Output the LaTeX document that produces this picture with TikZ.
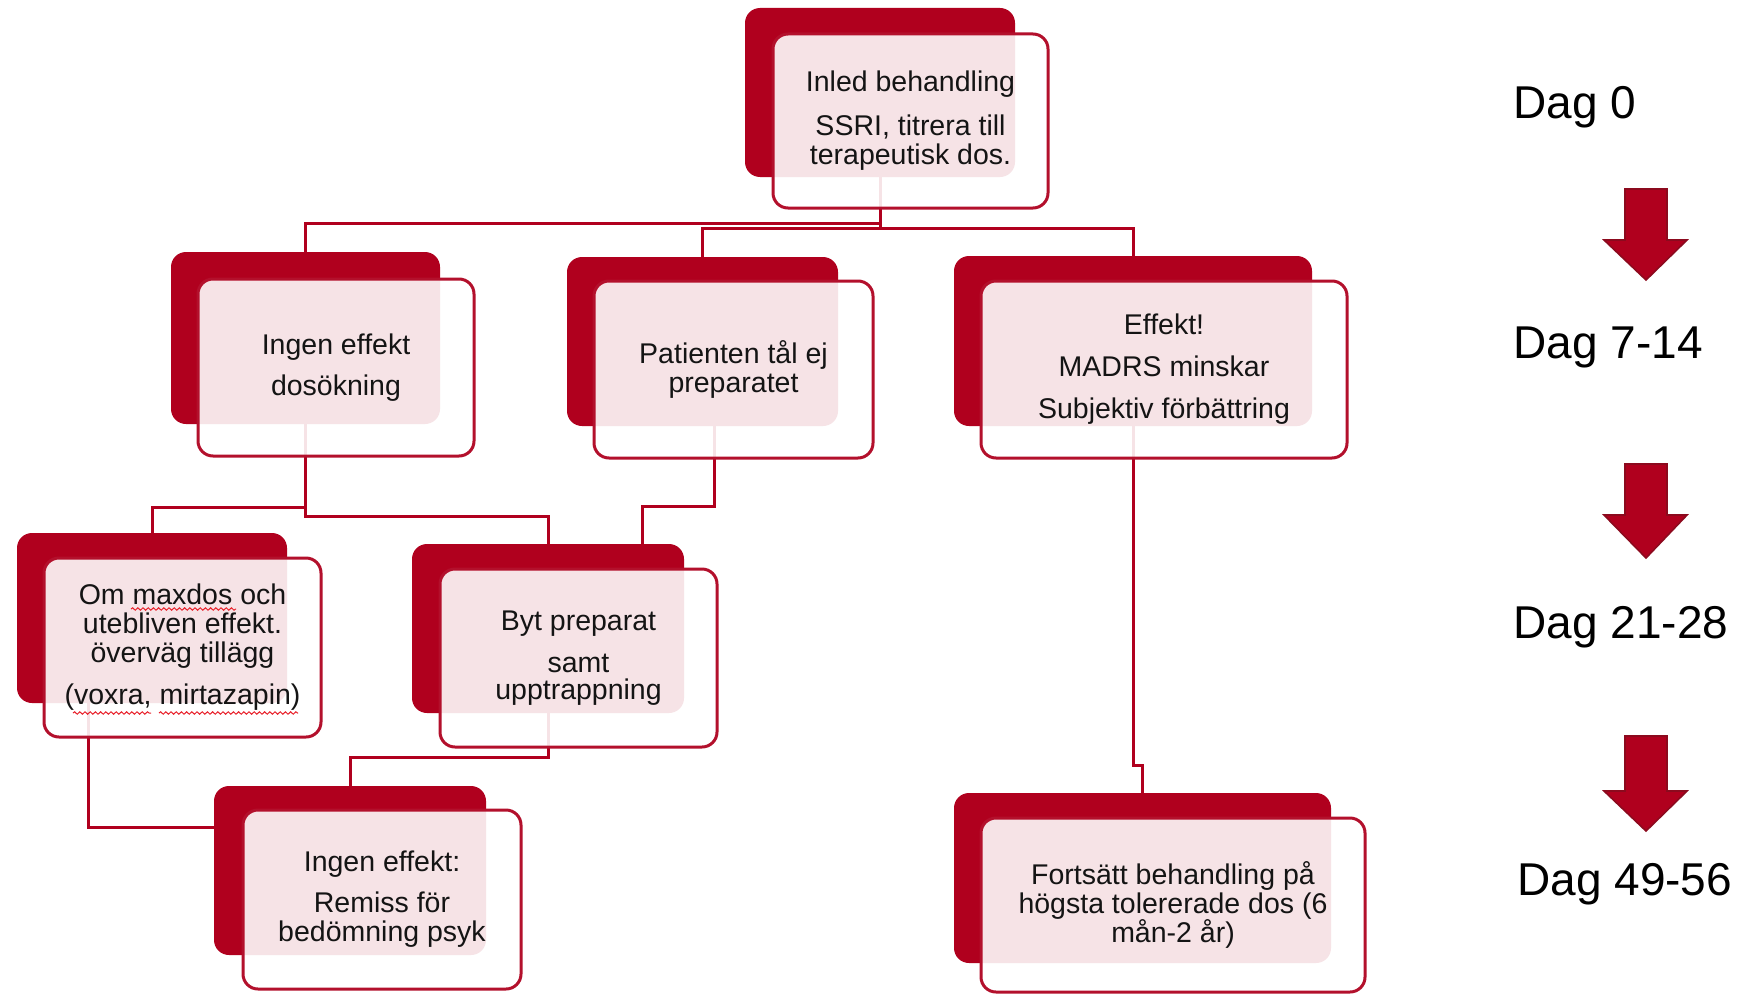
\documentclass[tikz,border=0pt]{standalone}
\usepackage{fontspec}
\setmainfont{Liberation Sans}
\usetikzlibrary{decorations.pathmorphing}
\definecolor{boxred}{HTML}{B0001E}
\definecolor{linered}{HTML}{B3102C}
\definecolor{arrowedge}{HTML}{8C0A1E}
\definecolor{squig}{HTML}{E8202A}
\definecolor{txt}{HTML}{141414}
\begin{document}
\begin{tikzpicture}[x=0.5pt,y=-0.5pt,
  darkbox/.style 2 args={fill=boxred, rounded corners=7.5pt, minimum width=#1*0.5pt, minimum height=#2*0.5pt, inner sep=0pt, outer sep=0pt},
  frontbox/.style 2 args={draw=linered, line width=1.5pt, fill=white, fill opacity=0.89, text opacity=1, rounded corners=7.5pt, minimum width=#1*0.5pt, minimum height=#2*0.5pt, inner sep=0pt, outer sep=0pt, align=center, text=txt, font=\fontsize{14.25pt}{14.5pt}\selectfont},
  conn/.style={draw=boxred, line width=1.5pt},
  daglabel/.style={anchor=base west, inner sep=0pt, font=\fontsize{23pt}{27pt}\selectfont, text=black},
  dagarrow/.style={fill=boxred, draw=arrowedge, line width=0.8pt, line join=miter},
  squigline/.style={draw=squig, line width=0.5pt, decorate, decoration={snake, amplitude=0.6pt, segment length=2.6pt}}
]
\useasboundingbox (0,0) rectangle (1744,995);
\fill[white] (0,0) rectangle (1744,995);

% back (dark) boxes
\node[darkbox={270}{169}] (T) at (880,92.5) {};
\node[darkbox={269}{172}] (A) at (305.5,338) {};
\node[darkbox={271}{169}] (B) at (702.5,341.5) {};
\node[darkbox={358}{170}] (C) at (1133,341) {};
\node[darkbox={270}{170}] (D) at (152,618) {};
\node[darkbox={272}{169}] (E) at (548,628.5) {};
\node[darkbox={272}{169}] (F) at (350,870.5) {};
\node[darkbox={377}{170}] (G) at (1142.5,878) {};

% connectors
\draw[conn] (T.south) -- ++(0,46) -| (A.north);
\draw[conn] (T.south) -- ++(0,51) -| (B.north);
\draw[conn] (T.south) -- ++(0,51) -| (C.north);
\draw[conn] (A.south) -- ++(0,83) -| (D.north);
\draw[conn] (A.south) -- ++(0,92) -| (E.north);
\draw[conn] ([xshift=6pt]B.south) -- ++(0,80) -| ([xshift=47pt]E.north);
\draw[conn] (E.south) -- ++(0,44) -| (F.north);
\draw[conn] ([xshift=-32pt]D.south) |- ([yshift=21.75pt]F.west);
\draw[conn] (C.south) -- ++(0,339) -| (G.north);

% front boxes with text
\node[frontbox={275}{174}] (Tf) at (910.5,121) {Inled behandling\\[7.5pt]SSRI, titrera till\\terapeutisk dos.};
\node[frontbox={276}{177}] (Af) at (336,367.5) {Ingen effekt\\[6pt]dosökning};
\node[frontbox={279}{177}] (Bf) at (733.5,369.5) {Patienten tål ej\\preparatet};
\node[frontbox={366}{177}] (Cf) at (1164,369.5) {Effekt!\\[6.5pt]MADRS minskar\\[6.5pt]Subjektiv förbättring};
\node[frontbox={277}{179}] (Df) at (182.5,647.5) {Om maxdos och\\utebliven effekt.\\överväg tillägg\\[6.5pt](voxra, mirtazapin)};
\node[frontbox={277}{178}] (Ef) at (578.5,658) {Byt preparat\\[6.5pt]samt\\[-1pt]upptrappning};
\node[frontbox={278}{179}] (Ff) at (382,899.5) {Ingen effekt:\\[6pt]Remiss för\\bedömning psyk};
\node[frontbox={384}{174}] (Gf) at (1173,905) {Fortsätt behandling på\\högsta tolererade dos (6\\mån-2 år)};

% spell-check squiggles
\draw[squigline] (131,609) -- (236,609);
\draw[squigline] (73,713) -- (151,713);
\draw[squigline] (159,713) -- (298,713);

% day labels
\node[daglabel] (d0) at (1513,119) {Dag 0};
\node[daglabel] (d1) at (1513,358) {Dag 7-14};
\node[daglabel] (d2) at (1513,638) {Dag 21-28};
\node[daglabel] (d3) at (1517,895) {Dag 49-56};

% block arrows
\foreach \t/\b/\p in {189/240/280, 464/515/558, 736/791/831} {
  \draw[dagarrow] (1625,\t) -- (1667,\t) -- (1667,\b) -- (1687,\b) -- (1646,\p) -- (1604,\b) -- (1625,\b) -- cycle;
}
\end{tikzpicture}
\end{document}
